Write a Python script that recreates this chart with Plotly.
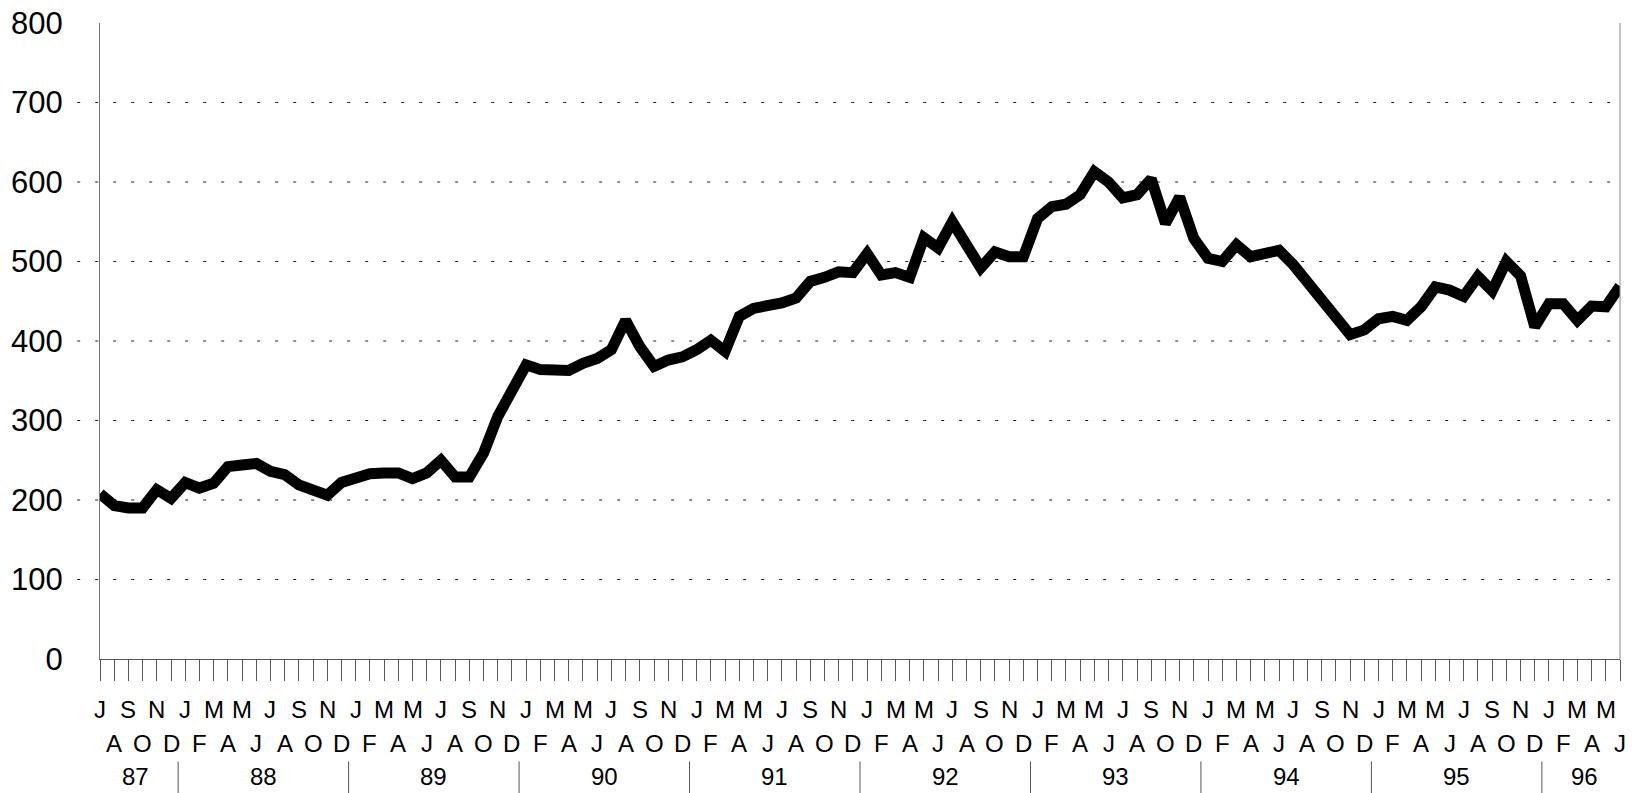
import plotly.graph_objects as go

# ---- data (monthly, July 1987 .. June 1996) ----
month_cycle = ["J", "F", "M", "A", "M", "J", "J", "A", "S", "O", "N", "D"]
start_month = 6  # July (0-based)
n_months = 108
month_labels = [month_cycle[(start_month + i) % 12] for i in range(n_months)]
month_index = list(range(n_months))

years = ["87", "88", "89", "90", "91", "92", "93", "94", "95", "96"]

values = [
    208, 193, 190, 190, 213, 202,                                # 1987 Jul-Dec
    222, 215, 221, 242, 244, 246, 236, 232, 219, 211, 206, 222,  # 1988
    229, 233, 234, 234, 227, 234, 250, 229, 229, 259, 305, 338,  # 1989
    370, 364, 365, 363, 372, 378, 389, 426, 393, 368, 376, 380,  # 1990
    389, 401, 387, 431, 441, 444, 448, 454, 475, 480, 487, 486,  # 1991
    510, 483, 486, 480, 530, 517, 550, 521, 492, 512, 506, 506,  # 1992
    554, 569, 572, 584, 613, 600, 580, 584, 604, 548, 581, 529,  # 1993
    504, 500, 521, 506, 509, 514, 496, 473, 452, 429, 408, 414,  # 1994
    428, 431, 426, 443, 468, 464, 456, 481, 463, 500, 482, 418,  # 1995
    447, 447, 426, 444, 443, 469,                                # 1996 Jan-Jun
]

y_ticks = [0, 100, 200, 300, 400, 500, 600, 700, 800]
grid_vals = [100, 200, 300, 400, 500, 600, 700]

FONT = "Liberation Sans Narrow, Arial Narrow, Liberation Sans, Arial, sans-serif"

fig = go.Figure()
fig.add_trace(go.Scatter(
    x=month_index, y=values, mode="lines",
    line=dict(color="black", width=11),
    hoverinfo="skip", showlegend=False,
))

shapes = []
# dotted horizontal gridlines
for g in grid_vals:
    shapes.append(dict(type="line", xref="paper", yref="y", x0=-0.015, x1=0.995,
                       y0=g, y1=g, line=dict(color="#222", width=1, dash="3px,15px"),
                       layer="below"))
# right frame line
shapes.append(dict(type="line", xref="paper", yref="paper", x0=1, x1=1, y0=0, y1=1,
                   line=dict(color="#888", width=1)))

annotations = []
# month letters in two staggered rows
for i, lab in zip(month_index, month_labels):
    annotations.append(dict(x=i, y=0, xref="x", yref="paper", text=lab, showarrow=False,
                            xanchor="center", yanchor="middle",
                            yshift=-50 if i % 2 == 0 else -84,
                            font=dict(family=FONT, size=24, color="black")))

# year labels and separators
pos = 0
for k, yr in enumerate(years):
    if k == 0:
        length = 12 - start_month
    elif k == len(years) - 1:
        length = n_months - pos
    else:
        length = 12
    center = pos + (length - 1) / 2
    annotations.append(dict(x=center, y=0, xref="x", yref="paper", text=yr, showarrow=False,
                            xanchor="center", yanchor="bottom", borderpad=0,
                            yshift=-132, font=dict(family=FONT, size=24, color="black")))
    pos += length
    if k < len(years) - 1:
        shapes.append(dict(type="line", xref="x", yref="paper", x0=pos - 0.5, x1=pos - 0.5,
                           y0=-0.161, y1=-0.215, line=dict(color="#555", width=1)))

fig.update_layout(
    width=1633, height=793,
    margin=dict(l=100, r=13, t=23, b=134, autoexpand=False),
    paper_bgcolor="white", plot_bgcolor="white",
    shapes=shapes, annotations=annotations,
    font=dict(family=FONT, color="black"),
)
fig.update_xaxes(
    range=[0, n_months - 1], tickmode="array", tickvals=month_index,
    showticklabels=False, ticks="outside", ticklen=21, tickcolor="#555", tickwidth=1,
    showgrid=False, zeroline=False, showline=True, linecolor="#555", linewidth=1,
    automargin=False,
)
fig.update_yaxes(
    range=[0, 800], tickmode="array", tickvals=y_ticks,
    ticktext=[str(v) for v in y_ticks],
    tickfont=dict(family=FONT, size=31, color="black"),
    ticks="", ticklabelstandoff=30,
    showgrid=False, zeroline=False, showline=True, linecolor="#777", linewidth=1,
    automargin=False,
)

fig.write_html("out.html", config={"displayModeBar": False},
               post_script="document.body.style.margin='0';document.body.style.overflow='hidden';")
